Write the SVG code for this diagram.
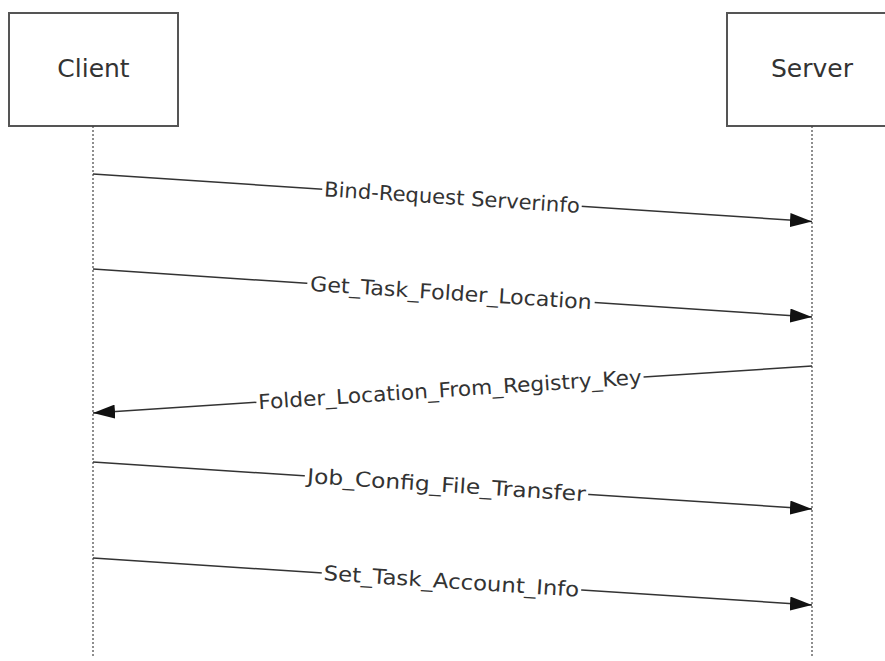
<svg xmlns="http://www.w3.org/2000/svg" width="885" height="661" viewBox="0 0 885 661">
<style>
.box{fill:#fff;stroke:#555;stroke-width:2}
.life{stroke:#444;stroke-width:1.2;stroke-dasharray:2,2;fill:none}
.msg{stroke:#333;stroke-width:1.5;fill:none}
.nt{font-family:"DejaVu Sans",Verdana,sans-serif;font-size:25px;fill:#333;text-anchor:middle}
.lt{font-family:"DejaVu Sans",Verdana,sans-serif;font-size:20.5px;fill:#333;text-anchor:middle}
.bg{fill:#fff}
</style>
<defs>
<marker id="ah" viewBox="0 0 22 14" refX="22" refY="7" markerWidth="22" markerHeight="14" markerUnits="userSpaceOnUse" orient="auto">
<path d="M0,0 L22,7 L0,14 Z" fill="#111"/>
</marker>
</defs>
<rect width="885" height="661" fill="#fff"/>
<g id="client">
<rect class="box" x="9" y="13" width="169" height="113"/>
<text class="nt" x="93.5" y="77">Client</text>
<line class="life" x1="93" y1="126" x2="93" y2="656"/>
</g>
<g id="server">
<rect class="box" x="727" y="13" width="170" height="113"/>
<text class="nt" x="812" y="77">Server</text>
<line class="life" x1="812" y1="126" x2="812" y2="656"/>
</g>
<g id="connectors">
<g id="m1">
<line class="msg" x1="93" y1="174" x2="812" y2="221.5" marker-end="url(#ah)"/>
<g transform="translate(452,197.5) rotate(3.74)">
<rect class="bg" x="-130" y="-11" width="260" height="22"/>
<text class="lt" x="0" y="7" textLength="256" lengthAdjust="spacingAndGlyphs">Bind-Request Serverinfo</text>
</g>
</g>
<g id="m2">
<line class="msg" x1="93" y1="269" x2="812" y2="317" marker-end="url(#ah)"/>
<g transform="translate(451,293) rotate(3.74)">
<rect class="bg" x="-144" y="-11" width="288" height="22"/>
<text class="lt" x="0" y="7" textLength="282" lengthAdjust="spacingAndGlyphs">Get_Task_Folder_Location</text>
</g>
</g>
<g id="m3">
<line class="msg" x1="812" y1="366" x2="93" y2="413" marker-end="url(#ah)"/>
<g transform="translate(450,389.7) rotate(-3.74)">
<rect class="bg" x="-194" y="-11" width="388" height="22"/>
<text class="lt" x="0" y="7" textLength="384" lengthAdjust="spacingAndGlyphs">Folder_Location_From_Registry_Key</text>
</g>
</g>
<g id="m4">
<line class="msg" x1="93" y1="462" x2="812" y2="509" marker-end="url(#ah)"/>
<g transform="translate(446.5,485.1) rotate(3.74)">
<rect class="bg" x="-142" y="-11" width="284" height="22"/>
<text class="lt" x="0" y="7" textLength="279" lengthAdjust="spacingAndGlyphs">Job_Config_File_Transfer</text>
</g>
</g>
<g id="m5">
<line class="msg" x1="93" y1="558" x2="812" y2="605" marker-end="url(#ah)"/>
<g transform="translate(451.5,581.4) rotate(3.74)">
<rect class="bg" x="-130" y="-11" width="260" height="22"/>
<text class="lt" x="0" y="7" textLength="256" lengthAdjust="spacingAndGlyphs">Set_Task_Account_Info</text>
</g>
</g>
</g>
</svg>
